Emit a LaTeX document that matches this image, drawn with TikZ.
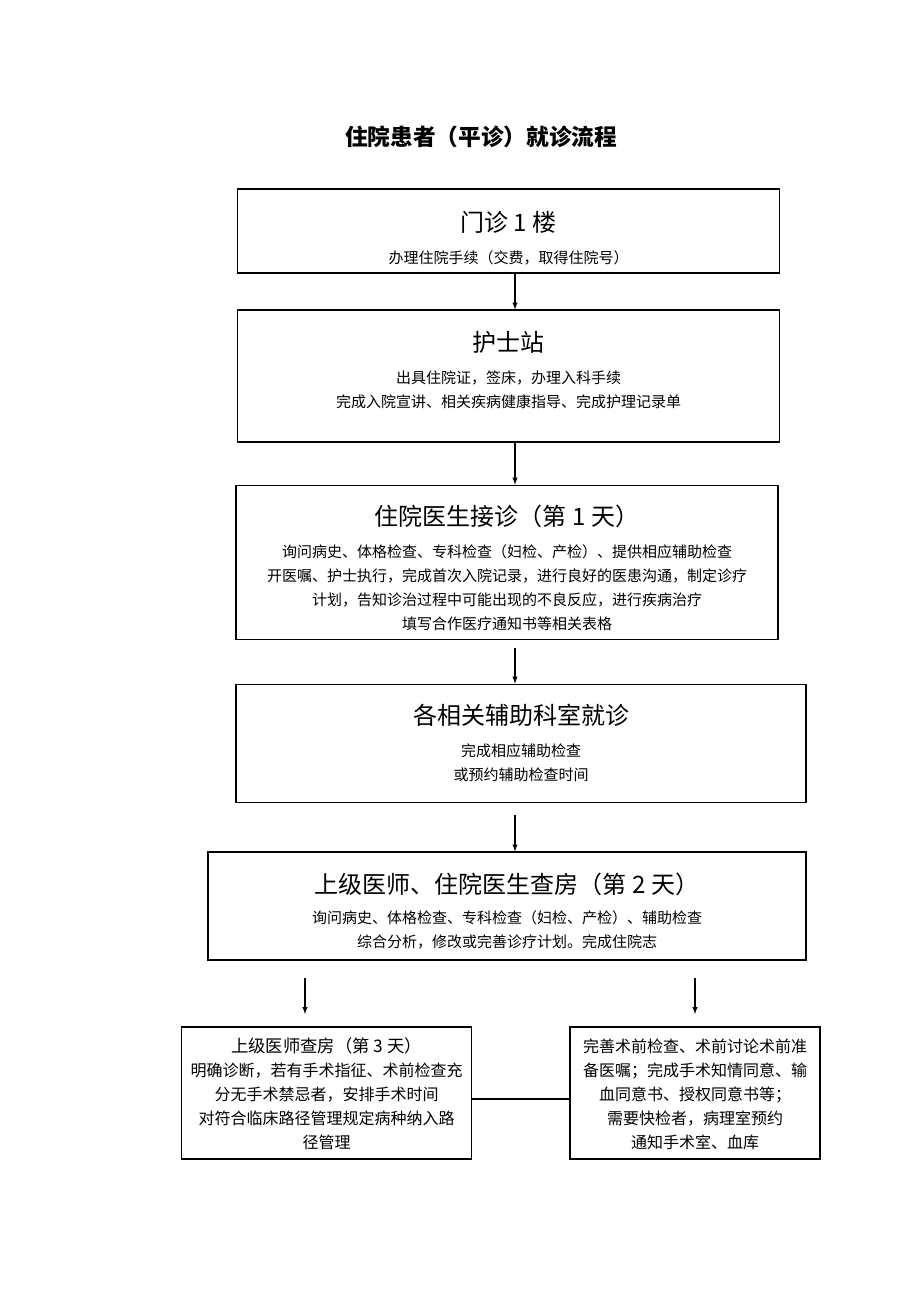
\documentclass[tikz,border=0pt]{standalone}
\usepackage{fontspec}
\setmainfont{Noto Sans CJK SC}
\newcommand\hd{\fontsize{18}{22}\selectfont}
\newcommand\bd{\fontsize{11.25}{18}\selectfont}
\newcommand\sm{\fontsize{12}{18}\selectfont}

\begin{document}
\begin{tikzpicture}[x=0.75pt,y=-0.75pt,
  box/.style={draw,thick,inner sep=0pt},
  txt/.style={align=center,inner sep=0pt,font=\bd},
  arr/.style={-latex,thick}]
  \useasboundingbox (0,0) rectangle (920,1302);
  \node[font=\fontsize{17}{18}\selectfont\bfseries] (title) at (481,137) {住院患者（平诊）就诊流程};

  % boxes
  \node[box,minimum width=407pt,minimum height=63pt] (b1) at (508.5,231) {};
  \node[box,minimum width=407pt,minimum height=99pt] (b2) at (508.5,376) {};
  \node[box,minimum width=406.5pt,minimum height=116pt] (b3) at (507,562.5) {};
  \node[box,minimum width=427.5pt,minimum height=89pt] (b4) at (521,743.5) {};
  \node[box,minimum width=448.5pt,minimum height=81pt] (b5) at (507,906) {};
  \node[box,minimum width=218pt,minimum height=99pt] (b6) at (326.5,1093) {};
  \node[box,minimum width=187.5pt,minimum height=99pt] (b7) at (695,1093) {};

  % texts
  \node[txt] (t1) at (508.5,238)
    {{\hd 门诊 1 楼}\\[6pt]办理住院手续（交费，取得住院号）};
  \node[txt] (t2) at (508.5,370)
    {{\hd 护士站}\\[6pt]出具住院证，签床，办理入科手续\\完成入院宣讲、相关疾病健康指导、完成护理记录单};
  \node[txt] (t3) at (507,568)
    {{\hd 住院医生接诊（第 1 天）}\\[6pt]询问病史、体格检查、专科检查（妇检、产检）、提供相应辅助检查\\
     开医嘱、护士执行，完成首次入院记录，进行良好的医患沟通，制定诊疗\\
     计划，告知诊治过程中可能出现的不良反应，进行疾病治疗\\填写合作医疗通知书等相关表格};
  \node[txt] (t4) at (521,743)
    {{\hd 各相关辅助科室就诊}\\[6pt]完成相应辅助检查\\或预约辅助检查时间};
  \node[txt] (t5) at (507,911)
    {{\hd 上级医师、住院医生查房（第 2 天）}\\[5pt]询问病史、体格检查、专科检查（妇检、产检）、辅助检查\\
     综合分析，修改或完善诊疗计划。完成住院志};
  \node[txt,font=\sm] (t6) at (326.5,1094)
    {{\fontsize{13}{18}\selectfont 上级医师查房（第 3 天）}\\明确诊断，若有手术指征、术前检查充\\
     分无手术禁忌者，安排手术时间\\对符合临床路径管理规定病种纳入路\\径管理};
  \node[txt,font=\sm] (t7) at (695,1094)
    {完善术前检查、术前讨论术前准\\备医嘱；完成手术知情同意、输\\血同意书、授权同意书等；\\
     需要快检者，病理室预约\\通知手术室、血库};

  \coordinate (ax) at (515,0);
  \coordinate (l1) at (305,978);
  \coordinate (l2) at (305,1014);
  \coordinate (r1) at (695,978);
  \coordinate (r2) at (695,1014);

  \draw[arr] (b1.south -| ax) -- (b2.north -| ax);
  \draw[arr] (b2.south -| ax) -- (b3.north -| ax);
  \draw[arr] ([yshift=-6pt]b3.south -| ax) -- (b4.north -| ax);
  \draw[arr] ([yshift=-9pt]b4.south -| ax) -- (b5.north -| ax);
  \draw[arr] (l1) -- (l2);
  \draw[arr] (r1) -- (r2);
  \draw[thick] ([yshift=-4.5pt]b6.east) -- ([yshift=-4.5pt]b7.west);
\end{tikzpicture}
\end{document}
